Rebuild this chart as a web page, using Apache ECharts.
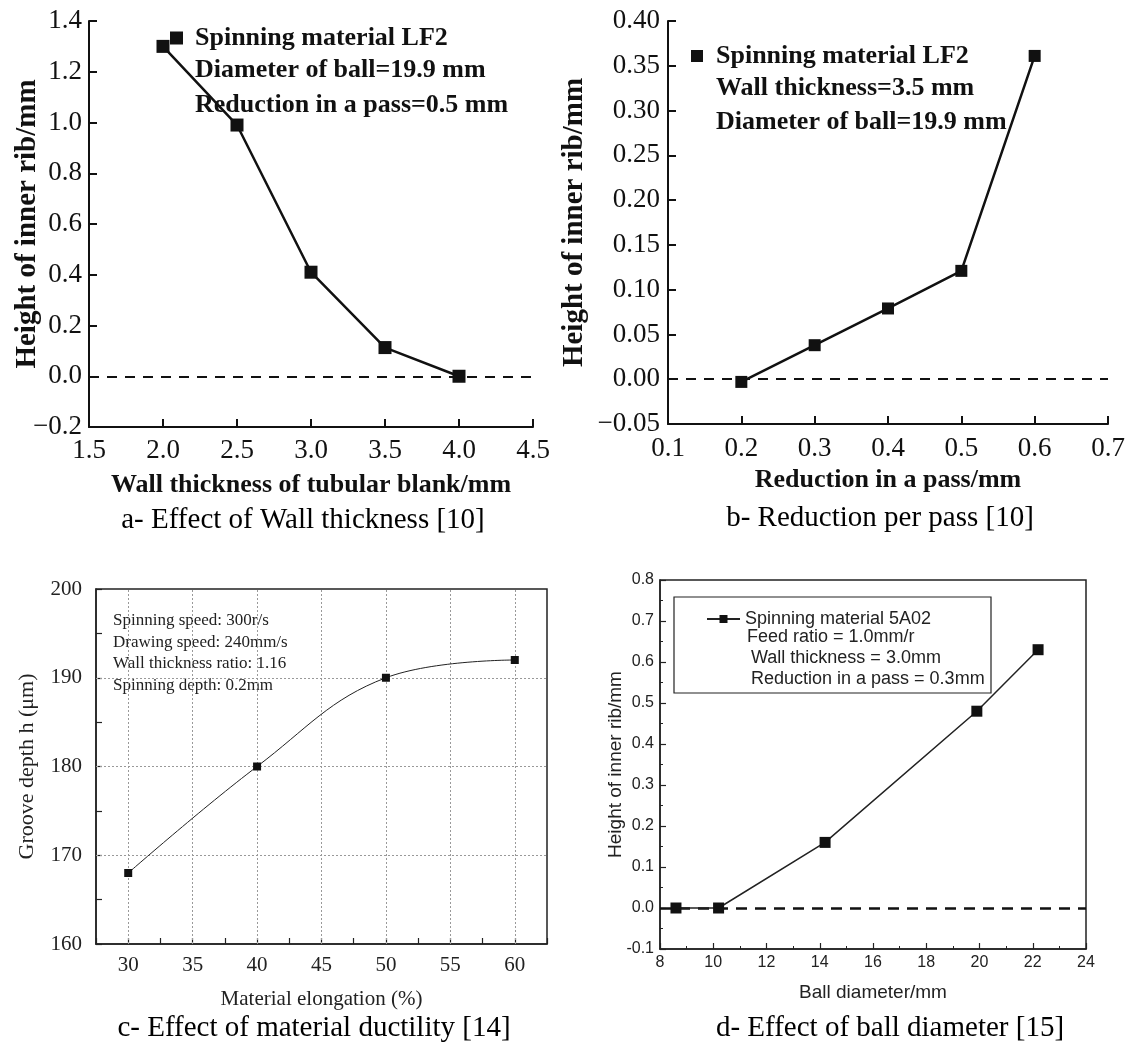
<!DOCTYPE html>
<html>
<head>
<meta charset="utf-8">
<script src="https://cdn.jsdelivr.net/npm/echarts@6/dist/echarts.min.js"></script>
<style>
  html, body { margin: 0; padding: 0; background: #fff; }
  #chart { width: 1141px; height: 1045px; }
</style>
</head>
<body>
<div id="chart"></div>
<script>
// a- wall thickness
const aThickness = [2.0, 2.5, 3.0, 3.5, 4.0];
const aHeight = [1.30, 0.99, 0.41, 0.113, 0.0];
// b- reduction per pass
const bReduction = [0.2, 0.3, 0.4, 0.5, 0.6];
const bHeight = [-0.003, 0.038, 0.079, 0.121, 0.361];
// c- material ductility
const cElongation = [30, 40, 50, 60];
const cDepth = [168, 180, 190, 192];
const cGridX = [30, 35, 40, 45, 50, 55, 60];
const cGridY = [170, 180, 190];
// d- ball diameter
const dDiameter = [8.6, 10.2, 14.2, 19.9, 22.2];
const dHeight = [0, 0, 0.16, 0.48, 0.63];

const aNotes = ['Diameter of ball=19.9 mm', 'Reduction in a pass=0.5 mm'];
const bNotes = ['Wall thickness=3.5 mm', 'Diameter of ball=19.9 mm'];
const cNotes = ['Spinning speed: 300r/s', 'Drawing speed: 240mm/s', 'Wall thickness ratio: 1.16', 'Spinning depth: 0.2mm'];
const dNotes = ['Feed ratio = 1.0mm/r', 'Wall thickness = 3.0mm', 'Reduction in a pass = 0.3mm'];
const captions = ['a- Effect of Wall thickness [10]', 'b- Reduction per pass [10]',
  'c- Effect of material ductility [14]', 'd- Effect of ball diameter [15]'];

const SERIF = '"Liberation Serif", "Times New Roman", serif';
const SANS = '"Liberation Sans", Arial, sans-serif';
const INK = '#111';

function zip(xs, ys) { return xs.map((x, i) => [x, ys[i]]); }
function minus(s) { return String(s).replace('-', '\u2212'); }

// axis look of the two scanned book plots (no frame, ticks inside)
function bookAxis(extra) {
  return Object.assign({
    type: 'value',
    axisLine: { show: true, onZero: false, lineStyle: { color: INK, width: 2 } },
    axisTick: { show: true, inside: true, length: 8, lineStyle: { color: INK, width: 2 } },
    splitLine: { show: false },
    nameLocation: 'middle',
    nameMoveOverlap: false,
    nameTextStyle: { color: INK, fontFamily: SERIF, fontSize: 26, fontWeight: 'bold' }
  }, extra);
}
function bookLabel(margin, fmt) {
  return { color: INK, fontFamily: SERIF, fontSize: 27, margin: margin,
    showMinLabel: true, showMaxLabel: true, formatter: fmt };
}

function boxAxis(font, size, extra) {
  return Object.assign({
    type: 'value',
    axisLine: { show: true, onZero: false, lineStyle: { color: '#222', width: 1.5 } },
    axisTick: { show: true, inside: true, length: 6, lineStyle: { color: '#222', width: 1.2 } },
    splitLine: { show: false },
    nameLocation: 'middle',
    nameMoveOverlap: false,
    nameTextStyle: { color: '#222', fontFamily: font, fontSize: size }
  }, extra);
}

const zeroLine = (w, dash) => ({
  silent: true, z: 1, symbol: ['none', 'none'], label: { show: false }, animation: false,
  lineStyle: { color: INK, width: w, type: dash }, data: [{ yAxis: 0 }]
});

const chart = echarts.init(document.getElementById('chart'));

const graphic = [];
aNotes.forEach((t, i) => graphic.push({ type: 'text', x: 195, y: 70 + i * 35,
  style: { text: t, font: 'bold 26px ' + SERIF, fill: INK, verticalAlign: 'middle' } }));
bNotes.forEach((t, i) => graphic.push({ type: 'text', x: 716, y: 88 + i * 34,
  style: { text: t, font: 'bold 26px ' + SERIF, fill: INK, verticalAlign: 'middle' } }));
cNotes.forEach((t, i) => graphic.push({ type: 'text', x: 113, y: 621 + i * 21.5,
  style: { text: t, font: '17px ' + SERIF, fill: '#222', verticalAlign: 'middle' } }));
graphic.push({ type: 'rect', shape: { x: 674, y: 597, width: 317, height: 96 },
  style: { fill: 'none', stroke: '#222', lineWidth: 1.2 } });
[[747, 637], [751, 658], [751, 679]].forEach((p, i) => graphic.push({ type: 'text', x: p[0], y: p[1],
  style: { text: dNotes[i], font: '18px ' + SANS, fill: '#222', verticalAlign: 'middle' } }));
[[303, 520], [880, 518], [314, 1028], [890, 1028]].forEach((p, i) => graphic.push({
  type: 'text', x: p[0], y: p[1],
  style: { text: captions[i], font: '29px ' + SERIF, fill: '#000', align: 'center', verticalAlign: 'middle' } }));

chart.setOption({
  animation: false,
  backgroundColor: '#fff',
  grid: [
    { left: 89, top: 21, width: 444, height: 406, outerBoundsMode: 'none' },
    { left: 668, top: 21, width: 440, height: 403, outerBoundsMode: 'none' },
    { left: 96, top: 589, width: 451, height: 355, show: true, borderColor: '#222', borderWidth: 1.5, outerBoundsMode: 'none' },
    { left: 660, top: 580, width: 426, height: 369, show: true, borderColor: '#222', borderWidth: 1.5, outerBoundsMode: 'none' }
  ],
  legend: [
    { data: ['Spinning material LF2'], left: 165, top: 20, icon: 'rect', itemWidth: 13, itemHeight: 13,
      selectedMode: false, textStyle: { fontFamily: SERIF, fontSize: 26, fontWeight: 'bold', color: INK, padding: [0, 0, 0, 7] } },
    { data: ['Spinning material LF2 '], left: 686, top: 38, icon: 'rect', itemWidth: 12, itemHeight: 12,
      selectedMode: false, textStyle: { fontFamily: SERIF, fontSize: 26, fontWeight: 'bold', color: INK, padding: [0, 0, 0, 8] } },
    { data: ['Spinning material 5A02'], left: 701, top: 605, itemWidth: 33, itemHeight: 10,
      selectedMode: false, textStyle: { fontFamily: SANS, fontSize: 18, color: '#222' } }
  ],
  xAxis: [
    bookAxis({ gridIndex: 0, min: 1.5, max: 4.5, interval: 0.5, name: 'Wall thickness of tubular blank/mm', nameGap: 45,
      axisLabel: bookLabel(10, v => v.toFixed(1)) }),
    bookAxis({ gridIndex: 1, min: 0.1, max: 0.7, interval: 0.1, name: 'Reduction in a pass/mm', nameGap: 43,
      axisLabel: bookLabel(11, v => v.toFixed(1)) }),
    boxAxis(SERIF, 21, { gridIndex: 2, min: 27.5, max: 62.5, interval: 2.5, name: 'Material elongation (%)', nameGap: 45,
      axisLabel: { color: '#222', fontFamily: SERIF, fontSize: 21, margin: 11, showMinLabel: true, showMaxLabel: true,
        formatter: v => (Math.abs(v % 5) < 1e-6 ? String(v) : '') } }),
    boxAxis(SANS, 19, { gridIndex: 3, min: 8, max: 24, interval: 2, name: 'Ball diameter/mm', nameGap: 34,
      minorTick: { show: true, splitNumber: 2, length: 3, lineStyle: { color: '#222', width: 1 } },
      axisLabel: { color: '#222', fontFamily: SANS, fontSize: 16, margin: 6, showMinLabel: true, showMaxLabel: true } })
  ],
  yAxis: [
    bookAxis({ gridIndex: 0, min: -0.2, max: 1.4, interval: 0.2, name: 'Height of inner rib/mm', nameGap: 47,
      nameTextStyle: { color: INK, fontFamily: SERIF, fontSize: 29, fontWeight: 'bold' },
      axisLabel: bookLabel(7, v => minus(v.toFixed(1))) }),
    bookAxis({ gridIndex: 1, min: -0.05, max: 0.4, interval: 0.05, name: 'Height of inner rib/mm', nameGap: 79,
      nameTextStyle: { color: INK, fontFamily: SERIF, fontSize: 29, fontWeight: 'bold' },
      axisLabel: bookLabel(8, v => minus(v.toFixed(2))) }),
    boxAxis(SERIF, 22, { gridIndex: 2, min: 160, max: 200, interval: 5, name: 'Groove depth h (\u03bcm)', nameGap: 58,
      axisLabel: { color: '#222', fontFamily: SERIF, fontSize: 21, margin: 14, showMinLabel: true, showMaxLabel: true,
        formatter: v => (Math.abs(v % 10) < 1e-6 ? String(v) : '') } }),
    boxAxis(SANS, 19, { gridIndex: 3, min: -0.1, max: 0.8, interval: 0.1, name: 'Height of inner rib/mm', nameGap: 35,
      minorTick: { show: true, splitNumber: 2, length: 3, lineStyle: { color: '#222', width: 1 } },
      axisLabel: { color: '#222', fontFamily: SANS, fontSize: 16, margin: 6, showMinLabel: true, showMaxLabel: true, formatter: v => v.toFixed(1) } })
  ],
  series: [
    { name: 'Spinning material LF2', type: 'line', xAxisIndex: 0, yAxisIndex: 0, data: zip(aThickness, aHeight),
      symbol: 'rect', symbolSize: 13, color: INK, lineStyle: { color: INK, width: 2.5 }, itemStyle: { color: INK },
      markLine: zeroLine(2, [10, 8]) },
    { name: 'Spinning material LF2 ', type: 'line', xAxisIndex: 1, yAxisIndex: 1, data: zip(bReduction, bHeight),
      symbol: 'rect', symbolSize: 12, color: INK, lineStyle: { color: INK, width: 2.5 }, itemStyle: { color: INK },
      markLine: zeroLine(2, [10, 8]) },
    { name: 'Groove depth', type: 'line', xAxisIndex: 2, yAxisIndex: 2, data: zip(cElongation, cDepth),
      smooth: 0.4, symbol: 'rect', symbolSize: 8, color: INK, lineStyle: { color: '#222', width: 1 }, itemStyle: { color: INK },
      markLine: { silent: true, z: 1, symbol: ['none', 'none'], label: { show: false }, animation: false,
        lineStyle: { color: '#999', width: 1, type: [2, 2] },
        data: cGridX.map(v => ({ xAxis: v })).concat(cGridY.map(v => ({ yAxis: v }))) } },
    { name: 'Spinning material 5A02', type: 'line', xAxisIndex: 3, yAxisIndex: 3, data: zip(dDiameter, dHeight),
      symbol: 'rect', symbolSize: 11, color: INK, lineStyle: { color: '#222', width: 1.5 }, itemStyle: { color: INK },
      markLine: zeroLine(2.5, [11, 8]) }
  ],
  graphic: graphic
});
</script>
</body>
</html>
